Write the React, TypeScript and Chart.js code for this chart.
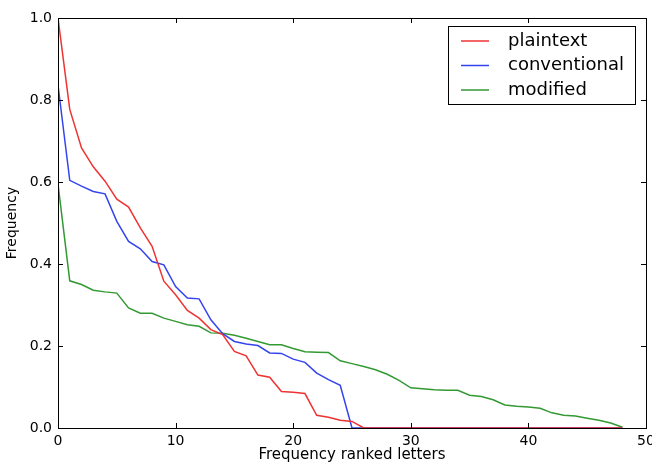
import React, { useEffect, useRef } from "react";
import { Chart, registerables } from "chart.js";

Chart.register(...registerables);

const seriesLabels = ["plaintext", "conventional", "modified"];
const seriesColors = ["#ee3333", "#3344ee", "#339933"];

const plaintext = [
  1.0, 0.777, 0.683, 0.637, 0.602, 0.558, 0.539, 0.488, 0.443, 0.358,
  0.325, 0.287, 0.268, 0.240, 0.228, 0.187, 0.176, 0.129, 0.124, 0.089,
  0.087, 0.084, 0.031, 0.026, 0.019, 0.016, 0, 0, 0, 0,
  0, 0, 0, 0, 0, 0, 0, 0, 0, 0,
  0, 0, 0, 0, 0, 0, 0, 0, 0,
];
const conventional = [
  0.836, 0.604, 0.590, 0.577, 0.571, 0.504, 0.455, 0.437, 0.406, 0.398,
  0.345, 0.317, 0.315, 0.264, 0.230, 0.211, 0.205, 0.201, 0.183, 0.182,
  0.168, 0.160, 0.134, 0.118, 0.104, 0, 0, 0, 0, 0,
  0, 0, 0, 0, 0, 0, 0, 0, 0, 0,
  0, 0, 0, 0, 0, 0, 0, 0, 0,
];
const modified = [
  0.595, 0.359, 0.350, 0.336, 0.332, 0.329, 0.293, 0.280, 0.280, 0.268,
  0.260, 0.252, 0.248, 0.232, 0.231, 0.226, 0.219, 0.211, 0.203, 0.203,
  0.194, 0.186, 0.185, 0.184, 0.164, 0.157, 0.150, 0.142, 0.131, 0.116,
  0.098, 0.096, 0.093, 0.092, 0.092, 0.080, 0.077, 0.069, 0.056, 0.053,
  0.051, 0.048, 0.037, 0.031, 0.029, 0.024, 0.019, 0.012, 0.002,
];

const xTicks = [0, 10, 20, 30, 40, 50];
const yTicks = [0, 0.2, 0.4, 0.6, 0.8, 1.0];
const xTitle = "Frequency ranked letters";
const yTitle = "Frequency";

const FONT = "'DejaVu Sans', sans-serif";

const framePlugin = {
  id: "frame",
  afterDraw(chart: any) {
    const ctx = chart.ctx;
    const { left, right, top, bottom } = chart.chartArea;
    const xs = chart.scales.x;
    const ys = chart.scales.y;
    ctx.save();
    ctx.strokeStyle = "#000";
    ctx.lineWidth = 1;
    ctx.strokeRect(Math.round(left) + 0.5, Math.round(top) + 0.5, Math.round(right - left), Math.round(bottom - top));
    const tl = 5;
    ctx.beginPath();
    xTicks.forEach((v) => {
      const px = Math.round(xs.getPixelForValue(v)) + 0.5;
      ctx.moveTo(px, bottom);
      ctx.lineTo(px, bottom - tl);
      ctx.moveTo(px, top);
      ctx.lineTo(px, top + tl);
    });
    yTicks.forEach((v) => {
      const py = Math.round(ys.getPixelForValue(v)) + 0.5;
      ctx.moveTo(left, py);
      ctx.lineTo(left + tl, py);
      ctx.moveTo(right, py);
      ctx.lineTo(right - tl, py);
    });
    ctx.stroke();

    // legend
    const bx = 448, by = 26, bw = 187, bh = 78;
    ctx.fillStyle = "#fff";
    ctx.fillRect(bx, by, bw, bh);
    ctx.strokeStyle = "#000";
    ctx.strokeRect(bx + 0.5, by + 0.5, bw, bh);
    ctx.font = `18px ${FONT}`;
    ctx.textBaseline = "middle";
    chart.data.datasets.forEach((ds: any, i: number) => {
      const cy = by + 15 + i * 24.5;
      ctx.strokeStyle = ds.borderColor;
      ctx.lineWidth = 1.5;
      ctx.beginPath();
      ctx.moveTo(bx + 13, cy);
      ctx.lineTo(bx + 41, cy);
      ctx.stroke();
      ctx.fillStyle = "#000";
      ctx.fillText(ds.label, bx + 60, cy);
    });
    ctx.restore();
  },
};

export default function App() {
  const ref = useRef<HTMLCanvasElement | null>(null);
  useEffect(() => {
    document.body.style.margin = "0";
    const series = [plaintext, conventional, modified];
    const chart = new Chart(ref.current as HTMLCanvasElement, {
      type: "line",
      data: {
        datasets: series.map((arr, i) => ({
          label: seriesLabels[i],
          data: arr.map((v, j) => ({ x: j, y: v })),
          borderColor: seriesColors[i],
          backgroundColor: seriesColors[i],
          borderWidth: 1.5,
          pointRadius: 0,
          tension: 0,
          fill: false,
        })),
      },
      options: {
        responsive: false,
        animation: false,
        layout: { padding: { left: 4, right: 6, top: 18, bottom: 0 } },
        plugins: { legend: { display: false }, tooltip: { enabled: false } },
        scales: {
          x: {
            type: "linear",
            min: 0,
            max: 50,
            afterBuildTicks: (s: any) => {
              s.ticks = xTicks.map((v) => ({ value: v }));
            },
            afterFit: (s: any) => {
              s.height = 34;
              s.paddingLeft = 0;
              s.paddingRight = 0;
            },
            grid: { display: false, drawTicks: false },
            border: { display: false },
            ticks: { color: "#000", padding: 5, maxRotation: 0, font: { family: FONT, size: 14 } },
            title: { display: true, text: xTitle, color: "#000", padding: { top: 0, bottom: -2 }, font: { family: FONT, size: 15 } },
          },
          y: {
            type: "linear",
            min: 0,
            max: 1,
            afterBuildTicks: (s: any) => {
              s.ticks = yTicks.map((v) => ({ value: v }));
            },
            afterFit: (s: any) => {
              s.width = 54;
              s.paddingTop = 0;
              s.paddingBottom = 0;
            },
            grid: { display: false, drawTicks: false },
            border: { display: false },
            ticks: {
              color: "#000",
              padding: 6,
              font: { family: FONT, size: 14 },
              callback: (v: any) => Number(v).toFixed(1),
            },
            title: { display: true, text: yTitle, color: "#000", padding: { top: 0, bottom: 0 }, font: { family: FONT, size: 14 } },
          },
        },
      },
      plugins: [framePlugin],
    });
    return () => chart.destroy();
  }, []);
  return <canvas ref={ref} width={652} height={462} style={{ display: "block" }} />;
}
